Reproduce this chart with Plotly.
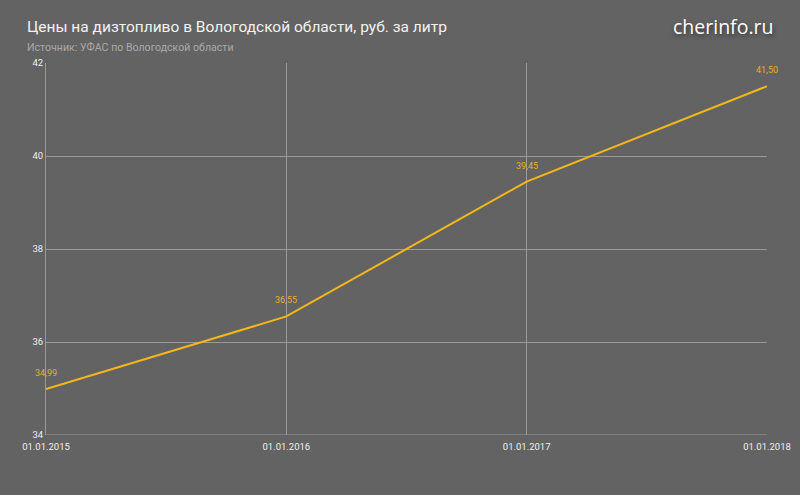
import plotly.graph_objects as go

dates = ["01.01.2015", "01.01.2016", "01.01.2017", "01.01.2018"]
prices = [34.99, 36.55, 39.45, 41.50]
price_labels = ["34,99", "36,55", "39,45", "41,50"]
y_ticks = [34, 36, 38, 40, 42]

BG = "#636363"
GRID = "#9a9a9a"
LINE = "#f7b718"
LABEL = "#e9ad2a"

fig = go.Figure()
fig.add_trace(go.Scatter(
    x=dates, y=prices, mode="lines",
    line=dict(color=LINE, width=2),
    hoverinfo="skip", showlegend=False,
))
for d, p, t in zip(dates, prices, price_labels):
    fig.add_annotation(x=d, y=p, text=t, showarrow=False, yshift=16,
                       font=dict(family="Roboto", size=9, color=LABEL))

fig.update_layout(
    width=800, height=495,
    paper_bgcolor=BG, plot_bgcolor=BG,
    margin=dict(l=46, r=33, t=63, b=60, autoexpand=False),
    font=dict(family="Roboto", color="#eeeeee", size=10),
    showlegend=False,
)
fig.update_xaxes(
    type="category", range=[0, 3], automargin=False,
    showgrid=True, gridcolor=GRID, gridwidth=1,
    showline=False, zeroline=False,
    ticks="", ticklabelstandoff=4,
    tickfont=dict(family="Roboto", size=9.5, color="#eeeeee"),
)
fig.update_yaxes(
    range=[34, 42], tickvals=y_ticks, ticktext=[str(v) for v in y_ticks],
    automargin=False,
    showgrid=True, gridcolor=GRID, gridwidth=1,
    showline=True, linecolor=GRID, linewidth=1,
    zeroline=False, ticks="",
    tickfont=dict(family="Roboto", size=9.5, color="#eeeeee"),
)
fig.add_shape(type="line", xref="paper", yref="y", x0=0, x1=1, y0=34, y1=34,
              line=dict(color=GRID, width=1))

fig.add_annotation(xref="paper", yref="paper", x=-0.029, y=1.0,
                   xanchor="left", yanchor="bottom", yshift=25,
                   text="Цены на дизтопливо в Вологодской области, руб. за литр",
                   showarrow=False,
                   font=dict(family="Roboto", size=15.5, color="#f2f2f2"))
fig.add_annotation(xref="paper", yref="paper", x=-0.029, y=1.0,
                   xanchor="left", yanchor="bottom", yshift=7,
                   text="Источник: УФАС по Вологодской области",
                   showarrow=False,
                   font=dict(family="Roboto", size=10.6, color="#a8a8a8"))
fig.add_annotation(xref="paper", yref="paper", x=1.011, y=1.0,
                   xanchor="right", yanchor="bottom", yshift=21,
                   text="cherinfo.ru", showarrow=False,
                   font=dict(family="Open Sans", size=19.5, color="#ffffff",
                             shadow="1px 2px 4px rgba(0,0,0,0.5)"))

fig.write_html("out.html", config={"displayModeBar": False},
               post_script="document.body.style.margin='0';")
